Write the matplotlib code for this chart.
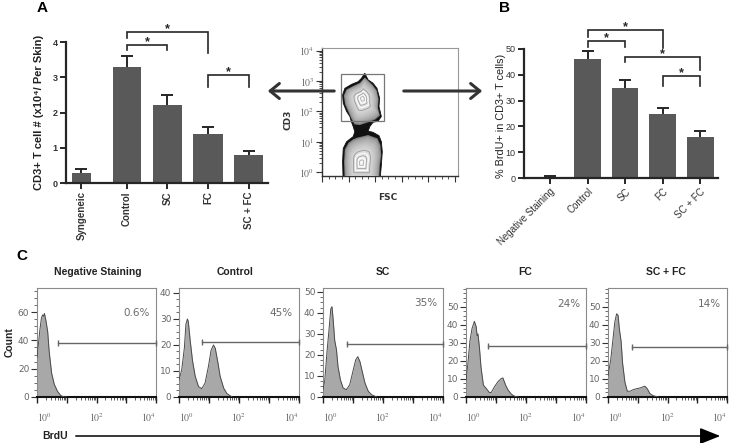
import numpy as np
import matplotlib
matplotlib.use('Agg')
import matplotlib.pyplot as plt
from matplotlib.patches import Polygon, Rectangle, FancyArrowPatch

plt.rcParams['font.family'] = ['Liberation Sans', 'DejaVu Sans']
plt.rcParams['mathtext.fontset'] = 'stix'

# ---------------- data ----------------
a_groups = ['Syngeneic', 'Control', 'SC', 'FC', 'SC + FC']
a_means = [0.28, 3.3, 2.2, 1.4, 0.8]
a_errs = [0.12, 0.3, 0.3, 0.2, 0.1]
# (group i, group j, bracket top, left leg bottom, right leg bottom)
a_sig = [(1, 2, 3.91, 3.77, 3.76), (1, 3, 4.27, 4.10, 3.68), (3, 4, 3.06, 2.73, 2.73)]

b_groups = ['Negative Staining', 'Control', 'SC', 'FC', 'SC + FC']
b_means = [0.5, 46, 35, 25, 16]
b_errs = [0.3, 3.4, 3.1, 2.1, 2.3]
b_sig = [(1, 2, 53.1, 50.9, 50.9), (1, 3, 57.4, 54.8, 50.3),
         (2, 4, 47.0, 45.1, 41.9), (3, 4, 39.5, 35.7, 35.7)]

# flow plot (FSC, log10 CD3) outlines
flow_outer = [(322, 3.26), (347, 3.04), (384, 2.93), (414, 2.76), (434, 2.43), (429, 2.16),
              (447, 1.83), (422, 1.68), (384, 1.64), (360, 1.50), (347, 1.35), (384, 1.31),
              (429, 1.20), (447, 1.00), (454, 0.67), (447, 0.23), (434, -0.40), (160, -0.40),
              (155, 0.34), (160, 0.78), (185, 1.00), (235, 1.17), (247, 1.33), (235, 1.50),
              (222, 1.65), (210, 1.83), (185, 2.00), (160, 2.27), (155, 2.54), (172, 2.76),
              (222, 2.89), (272, 2.98), (297, 3.09)]
flow_upper = [(322, 3.12), (380, 2.88), (412, 2.69), (426, 2.41), (421, 2.12), (436, 1.86),
              (400, 1.73), (347, 1.64), (285, 1.55), (245, 1.57), (222, 1.75), (200, 1.97),
              (174, 2.23), (164, 2.52), (184, 2.72), (232, 2.83), (285, 2.94)]
flow_lower = [(262, 1.13), (347, 1.22), (418, 1.11), (440, 0.89), (446, 0.56), (436, 0.23),
              (428, -0.40), (172, -0.40), (166, 0.34), (172, 0.75), (200, 0.97), (235, 1.08)]
flow_upper_center = (305, 2.43)
flow_lower_center = (297, 0.30)
gate_fsc = (140, 470)
gate_cd3 = (48, 1700)

# histograms: x in log10(BrdU), y = count
h_x = [
    [0.0, 0.05, 0.10, 0.15, 0.19, 0.22, 0.25, 0.30, 0.36, 0.41, 0.49, 0.58, 0.69, 0.80, 0.91, 1.0],
    [0, 0.09, 0.18, 0.23, 0.28, 0.31, 0.37, 0.45, 0.54, 0.65, 0.76, 0.87, 0.98, 1.07, 1.15, 1.21,
     1.30, 1.37, 1.49, 1.60, 1.77],
    [0, 0.06, 0.13, 0.20, 0.26, 0.30, 0.34, 0.39, 0.45, 0.50, 0.58, 0.67, 0.78, 0.89, 1.01, 1.09,
     1.16, 1.23, 1.32, 1.40, 1.51, 1.62, 1.79],
    [0, 0.06, 0.13, 0.20, 0.28, 0.34, 0.37, 0.40, 0.45, 0.50, 0.58, 0.67, 0.78, 0.84, 0.95, 1.06,
     1.17, 1.23, 1.32, 1.40, 1.51, 1.62, 1.73],
    [0, 0.09, 0.16, 0.23, 0.29, 0.34, 0.38, 0.44, 0.49, 0.57, 0.65, 0.74, 0.85, 0.96, 1.07, 1.24,
     1.32, 1.41, 1.52, 1.69],
]
h_y = [
    [28, 38, 48, 56, 58, 57, 59, 54, 46, 32, 17, 9, 4, 1, 0, 0],
    [6.6, 10.4, 19, 28, 30, 29, 22, 14, 8, 4, 3.2, 5.4, 11.7, 18, 20, 18.7, 13, 8, 3.4, 1.3, 0],
    [3.5, 8, 21, 32, 42, 43, 36.6, 27, 22.4, 14.5, 8.2, 4.3, 3.5, 5.8, 13, 17.7, 19.2, 16.9, 11.4,
     6.6, 2.7, 1.1, 0],
    [9.3, 18, 31, 38, 42, 39, 34, 35, 27, 16.5, 6.6, 4.8, 2.5, 2.5, 5.7, 8.4, 10.2, 10.6, 6.6, 3.9,
     1.6, 0.4, 0],
    [11.7, 20.5, 31, 41.8, 46.2, 45.3, 38, 31, 18.8, 8.1, 3.2, 3.2, 4.1, 4.6, 5, 6, 4.6, 1.9, 0.7, 0],
]
c_titles = ['Negative Staining', 'Control', 'SC', 'FC', 'SC + FC']
c_pct = ['0.6%', '45%', '35%', '24%', '14%']
gate_x0 = [0.71, 0.77, 0.80, 0.73, 0.80]
gate_y = [38, 21, 25, 28.4, 28]
c_ymax = [77, 41.9, 51.9, 60.5, 60.5]
c_ymajor = [[0, 20, 40, 60], [0, 10, 20, 30, 40], [0, 10, 20, 30, 40, 50],
            [0, 10, 20, 30, 40, 50], [0, 10, 20, 30, 40, 50]]
c_yminor_step = [5, 2.5, 2.5, 2.5, 2.5]

# ---------------- layout helpers ----------------
W, H = 730, 443
fig = plt.figure(figsize=(7.3, 4.43), dpi=100)


def ax_px(l, t, r, b):
    return fig.add_axes([l / W, 1 - b / H, (r - l) / W, (b - t) / H])


def fx(x):
    return x / W


def fy(y):
    return 1 - y / H


BAR = '#595959'
DARK = '#262626'


def bar_panel(ax, xs, widths, means, errs, groups, sig):
    ax.bar(xs, means, width=widths, color=BAR, zorder=2)
    eb = ax.errorbar(xs, means, yerr=[np.zeros(len(errs)), errs], fmt='none',
                     ecolor=DARK, elinewidth=1.4, capsize=4.5, capthick=1.4, zorder=3)
    eb[1][0].set_visible(False)
    for s in ['top', 'right']:
        ax.spines[s].set_visible(False)
    for s in ['left', 'bottom']:
        ax.spines[s].set_linewidth(1.6)
        ax.spines[s].set_color(DARK)
    ax.tick_params(direction='out', length=4, width=1.4, color=DARK, labelcolor='#333333',
                   labelsize=6.5, pad=2)
    ax.set_xticks(xs)
    for i, j, top, lb, rb in sig:
        xi, xj = xs[i], xs[j]
        ax.plot([xi, xi, xj, xj], [lb, top, top, rb], color=DARK, lw=1.2,
                clip_on=False, solid_joinstyle='miter', zorder=4)
        ax.text((xi + xj) / 2, top, '*', ha='center', va='baseline', fontsize=9,
                color=DARK, fontweight='bold')


# ---------------- panel A ----------------
axA = ax_px(66, 42, 268, 183)
a_x = [-0.12, 1, 2, 3, 4]
bar_panel(axA, a_x, [0.47, 0.70, 0.71, 0.72, 0.72], a_means, a_errs, a_groups, a_sig)
axA.set_xlim(-0.50, 4.48)
axA.set_ylim(0, 4)
axA.set_yticks([0, 1, 2, 3, 4])
axA.set_xticklabels(a_groups, rotation=90, fontweight='bold', fontsize=7)
for t in axA.get_yticklabels():
    t.set_fontweight('bold')
fig.text(fx(39), fy(112), 'CD3+ T cell # (x10\u2074/ Per Skin)', rotation=90,
         ha='center', va='center', fontsize=8, fontweight='bold', color='#222222')
fig.text(fx(42), fy(8), 'A', ha='center', va='center', fontsize=11, fontweight='bold')

# ---------------- panel B ----------------
axB = ax_px(524, 49, 718, 178)
b_x = [0, 1, 2, 3, 4]
bar_panel(axB, b_x, [0.56, 0.71, 0.71, 0.72, 0.72], b_means, b_errs, b_groups, b_sig)
axB.set_xlim(-0.69, 4.47)
axB.set_ylim(0, 50)
axB.set_yticks([0, 10, 20, 30, 40, 50])
axB.set_xticklabels(b_groups, rotation=45, ha='right', rotation_mode='anchor', fontsize=7)
fig.text(fx(501), fy(116), '% BrdU+ in CD3+ T cells)', rotation=90,
         ha='center', va='center', fontsize=7.8, color='#222222')
fig.text(fx(504), fy(8), 'B', ha='center', va='center', fontsize=11, fontweight='bold')

# ---------------- flow plot ----------------
axF = ax_px(322, 48, 458, 176)
axF.set_xlim(0, 1024)
axF.set_ylim(-0.13, 4.09)
axF.add_patch(Polygon(flow_outer, closed=True, fc='#111111', ec='#111111', lw=0.6, zorder=2))


def blob(poly, center, n=20, dark=0.50, light=0.97):
    P = np.array(poly, float)
    c = np.array(center, float)
    for k, s in enumerate(np.linspace(1.0, 0.06, n)):
        Q = c + s * (P - c)
        g = dark + (light - dark) * (k / (n - 1)) ** 0.5
        axF.add_patch(Polygon(Q, closed=True, fc=(g, g, g), ec='none', zorder=3))
    for s, col in [(0.46, '#9a9a9a'), (0.35, 'white'), (0.26, '#a0a0a0'), (0.18, 'white'),
                   (0.11, '#b0b0b0')]:
        Q = c + s * (P - c)
        axF.add_patch(Polygon(Q, closed=True, fc='none', ec=col, lw=0.6, zorder=4))


blob(flow_upper, flow_upper_center)
blob(flow_lower, flow_lower_center)
gy0, gy1 = np.log10(gate_cd3[0]), np.log10(gate_cd3[1])
axF.add_patch(Rectangle((gate_fsc[0], gy0), gate_fsc[1] - gate_fsc[0], gy1 - gy0,
                        fc='none', ec='#777777', lw=0.9, zorder=5))
axF.set_yticks([0, 1, 2, 3, 4])
axF.set_yticklabels(['$10^{%d}$' % k for k in range(5)])
axF.set_yticks([k + np.log10(m) for k in range(4) for m in range(2, 10)], minor=True)
axF.set_xticks(np.arange(0, 1025, 200))
axF.set_xticks(np.arange(0, 1025, 50), minor=True)
axF.set_xticklabels([])
axF.tick_params(which='major', length=4, width=0.8, color='#333333', labelsize=7,
                labelcolor='#666666', pad=1.5)
axF.tick_params(which='minor', length=2, width=0.6, color='#333333')
for s in ['top', 'right']:
    axF.spines[s].set_color('#999999')
    axF.spines[s].set_linewidth(0.8)
for s in ['left', 'bottom']:
    axF.spines[s].set_color('#333333')
    axF.spines[s].set_linewidth(1.0)
fig.text(fx(288), fy(120), 'CD3', rotation=90, ha='center', va='center', fontsize=6.5,
         fontweight='bold', color='#333333', family='DejaVu Sans')
fig.text(fx(388), fy(197), 'FSC', ha='center', va='center', fontsize=6.5,
         fontweight='bold', color='#333333', family='DejaVu Sans')

# arrows between panels
for (x0, x1) in [(337, 265), (401, 485)]:
    fig.add_artist(FancyArrowPatch((fx(x0), fy(91)), (fx(x1), fy(91)),
                                   transform=fig.transFigure,
                                   arrowstyle='->,head_length=0.55,head_width=0.45',
                                   mutation_scale=12, lw=2.2, color='#333333'))

# ---------------- panel C ----------------
c_boxes = [(37, 288, 156, 397), (179, 288, 299, 397), (323, 288, 443, 397),
           (466, 288, 586, 397), (608, 288, 727, 397)]
c_title_x = [98, 235, 383, 525, 666]
c_pct_y = [0.77, 0.77, 0.86, 0.85, 0.85]
for i in range(5):
    ax = ax_px(*c_boxes[i])
    ax.fill_between(h_x[i], h_y[i], 0, color='#a8a8a8', lw=0, zorder=2)
    ax.plot(h_x[i], h_y[i], color='#4a4a4a', lw=0.7, zorder=3)
    ax.plot([gate_x0[i], 4.0], [gate_y[i], gate_y[i]], color='#666666', lw=1.0,
            marker='|', ms=4, mew=1.0, clip_on=False, zorder=4)
    ax.set_xlim(0, 4)
    ax.set_ylim(0, c_ymax[i])
    ax.set_xticks([0, 1, 2, 3, 4])
    ax.set_xticklabels(['$10^{0}$', '', '$10^{2}$', '', '$10^{4}$'])
    labs = ax.get_xticklabels()
    labs[0].set_ha('left')
    labs[4].set_ha('right')
    ax.set_xticks([k + np.log10(m) for k in range(4) for m in range(2, 10)], minor=True)
    ax.set_yticks(c_ymajor[i])
    ax.set_yticks(np.arange(0, c_ymax[i], c_yminor_step[i]), minor=True)
    ax.tick_params(axis='x', which='major', length=4, width=1.0, color='#222222',
                   labelsize=7, labelcolor='#666666', pad=6)
    ax.tick_params(axis='x', which='minor', length=2, width=0.6, color='#444444')
    ax.tick_params(axis='y', which='major', length=4, width=0.8, color='#333333',
                   labelsize=6.5, labelcolor='#666666', pad=1.5)
    ax.tick_params(axis='y', which='minor', length=2, width=0.6, color='#555555')
    for t in ax.get_yticklabels():
        t.set_family('DejaVu Sans')
    for s in ['top', 'right', 'left']:
        ax.spines[s].set_color('#8a8a8a')
        ax.spines[s].set_linewidth(0.8)
    ax.spines['bottom'].set_color('#111111')
    ax.spines['bottom'].set_linewidth(1.5)
    ax.text(0.95, c_pct_y[i], c_pct[i], transform=ax.transAxes, ha='right', va='center',
            fontsize=7.5, color='#6a6a6a', family='DejaVu Sans')
    fig.text(fx(c_title_x[i]), fy(272), c_titles[i], ha='center', va='center',
             fontsize=7.5, fontweight='bold', color='#222222')

fig.text(fx(10), fy(342), 'Count', rotation=90, ha='center', va='center', fontsize=7.5,
         fontweight='bold', color='#222222')
fig.text(fx(22), fy(256), 'C', ha='center', va='center', fontsize=11, fontweight='bold')
fig.text(fx(42), fy(436), 'BrdU', ha='left', va='center', fontsize=7.5, fontweight='bold',
         color='#222222')
fig.add_artist(FancyArrowPatch((fx(73), fy(436)), (fx(723), fy(436)), transform=fig.transFigure,
                               arrowstyle='-|>,head_length=1.25,head_width=0.5',
                               mutation_scale=10, lw=1.1, color='black'))

fig.savefig('out.png', dpi=100)
